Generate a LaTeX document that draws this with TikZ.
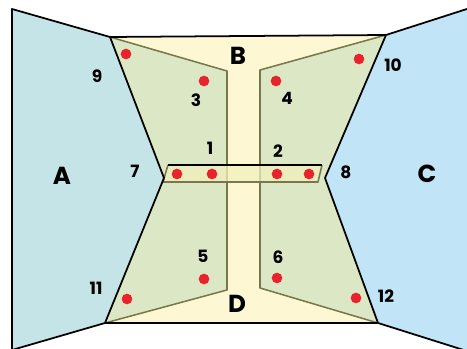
\documentclass[tikz,border=0pt]{standalone}
\usepackage{fontspec}
\setmainfont{Poppins}
\definecolor{leftblue}{HTML}{C5E4E8}
\definecolor{rightblue}{HTML}{C1E4F7}
\definecolor{paleyellow}{HTML}{FDF8D3}
\definecolor{palegreen}{HTML}{DCE8C5}
\definecolor{barfill}{HTML}{F2F0BE}
\definecolor{olivepen}{HTML}{77774A}
\definecolor{dotred}{HTML}{E8232B}
\begin{document}
\begin{tikzpicture}[
  x=0.03cm, y=-0.03cm,
  edge/.style={line width=1.5pt, line join=round},
  inner/.style={draw=olivepen, line width=1.3pt, line join=round},
  dot/.style={circle, fill=dotred, inner sep=0pt, minimum size=0.32cm},
  num/.style={font=\fontsize{14.5}{15}\selectfont\bfseries},
  region/.style={font=\fontsize{21}{21}\selectfont\bfseries}
]
\useasboundingbox (0,0) rectangle (467,349);
\clip (0,0) rectangle (467,349);

% side regions
\fill[leftblue] (12,9) -- (110,37) -- (164,178) -- (105,323) -- (12,350) -- cycle;
\fill[rightblue] (386,35) -- (470,8) -- (470,352) -- (378,323) -- (325,178) -- cycle;

% middle region
\fill[paleyellow] (110,37) -- (386,35) -- (325,178) -- (378,323) -- (105,323) -- (164,178) -- cycle;

% green pieces
\fill[palegreen] (110,37) -- (227,71) -- (227,290) -- (105,323) -- (164,178) -- cycle;
\fill[palegreen] (386,35) -- (260,70) -- (260,288) -- (378,323) -- (325,178) -- cycle;
\draw[inner] (110,37) -- (227,71) -- (227,290) -- (105,323);
\draw[inner] (386,35) -- (260,70) -- (260,288) -- (378,323);

% cross bar
\fill[barfill, opacity=0.75] (168,165) -- (322,165) -- (318,182) -- (163,182) -- cycle;
\draw[inner] (322,165) -- (318,182) -- (163,182) -- (168,165);
\draw[edge] (168,165) -- (322,165);

% outlines
\draw[edge] (12,352) -- (12,9) -- (110,37) -- (164,178) -- (105,323) -- (12,350);
\draw[edge] (470,8) -- (386,35) -- (325,178) -- (378,323) -- (470,352);
\draw[edge] (110,37) -- (386,35);
\draw[edge] (105,323) -- (378,323);

% points
\node[dot] (p9) at (126,54) {};
\node[dot] (p3) at (204,81) {};
\node[dot] (p1a) at (177,174) {};
\node[dot] (p1b) at (212,174) {};
\node[dot] (p2a) at (277,174) {};
\node[dot] (p2b) at (309,174) {};
\node[dot] (p4) at (276,81) {};
\node[dot] (p10) at (359,59) {};
\node[dot] (p5) at (204,279) {};
\node[dot] (p11) at (127,299) {};
\node[dot] (p6) at (277,278) {};
\node[dot] (p12) at (356,298) {};

% labels
\node[num] (n9) at (97,76) {9};
\node[num] (n3) at (196,100) {3};
\node[num] (n1) at (210,148) {1};
\node[num] (n7) at (135,171) {7};
\node[num] (n4) at (287,98) {4};
\node[num] (n10) at (393,65) {10};
\node[num] (n2) at (278,151) {2};
\node[num] (n8) at (346,172) {8};
\node[num] (n5) at (203,256) {5};
\node[num] (n11) at (96,288) {11};
\node[num] (n6) at (278,257) {6};
\node[num] (n12) at (386,296) {12};

\node[region] (regA) at (62,176) {A};
\node[region] (regB) at (238,56) {B};
\node[region] (regC) at (427,174) {C};
\node[region] (regD) at (237,304) {D};
\end{tikzpicture}
\end{document}
